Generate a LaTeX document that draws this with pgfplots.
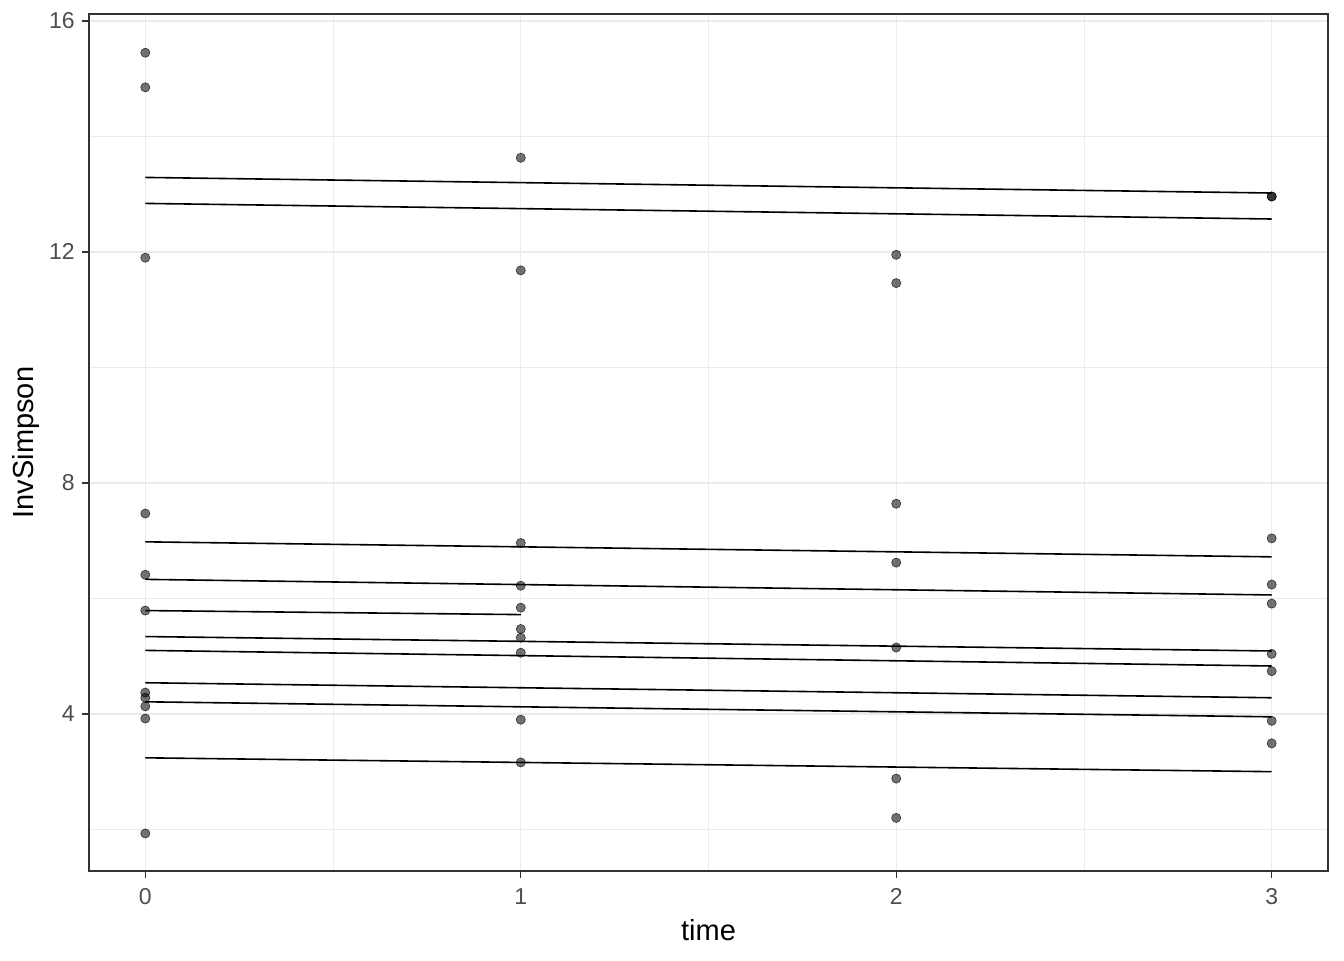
\documentclass[border=0pt]{standalone}
\usepackage{pgfplots}
\pgfplotsset{compat=1.18}
\usepackage{fontspec}
\setmainfont{Liberation Sans}
\definecolor{gridmaj}{HTML}{EBEBEB}
\definecolor{tickcol}{HTML}{4D4D4D}
\definecolor{framecol}{HTML}{333333}
\begin{document}
\begin{tikzpicture}
\path[use as bounding box] (-44.5pt,-44.5pt) rectangle (627.5pt,435.5pt);
\begin{axis}[
  at={(0pt,0pt)}, anchor=south west, scale only axis,
  width=619.5pt, height=428.5pt,
  xmin=-0.15, xmax=3.15, ymin=1.28, ymax=16.12,
  xtick={0,1,2,3}, ytick={4,8,12,16},
  minor xtick={0.5,1.5,2.5}, minor ytick={2,6,10,14},
  grid=both,
  major grid style={gridmaj, line width=0.6pt},
  minor grid style={gridmaj, line width=0.35pt},
  axis line style={framecol, line width=0.6pt},
  every tick/.style={framecol, line width=0.6pt},
  major tick length=3.6pt, minor tick length=0pt,
  tick align=outside, xtick pos=bottom, ytick pos=left,
  ticklabel style={font=\fontsize{11.5}{13}\selectfont, text=tickcol},
  xticklabel style={yshift=-1.6pt},
  /pgf/number format/assume math mode=true,
  xlabel={time}, ylabel={InvSimpson},
  label style={font=\fontsize{14.5}{16}\selectfont, text=black},
  xlabel style={at={(axis description cs:0.5,-0.0688)}, anchor=center},
  ylabel style={at={(axis description cs:-0.0508,0.5)}, anchor=center, rotate=0},
]
\addplot[only marks, mark=*, mark size=2.3pt,
  mark options={fill=black, fill opacity=0.55, draw=black, draw opacity=0.7, line width=0.3pt}]
  table[row sep=\\] {
x y\\
0 15.45\\ 0 14.85\\ 0 11.90\\ 0 7.47\\ 0 6.41\\ 0 5.79\\ 0 4.37\\ 0 4.28\\ 0 4.13\\ 0 3.92\\ 0 1.93\\
1 13.63\\ 1 11.68\\ 1 6.96\\ 1 6.22\\ 1 5.84\\ 1 5.47\\ 1 5.32\\ 1 5.06\\ 1 3.90\\ 1 3.16\\
2 11.95\\ 2 11.46\\ 2 7.64\\ 2 6.62\\ 2 5.15\\ 2 2.88\\ 2 2.20\\
3 12.96\\ 3 12.96\\ 3 7.04\\ 3 6.24\\ 3 5.91\\ 3 5.04\\ 3 4.74\\ 3 3.88\\ 3 3.49\\
};
\addplot[black, line width=0.8pt] coordinates {(0,13.29) (3,13.02)};
\addplot[black, line width=0.8pt] coordinates {(0,12.84) (3,12.57)};
\addplot[black, line width=0.8pt] coordinates {(0,6.98) (3,6.72)};
\addplot[black, line width=0.8pt] coordinates {(0,6.33) (3,6.06)};
\addplot[black, line width=0.8pt] coordinates {(0,5.79) (1,5.72)};
\addplot[black, line width=0.8pt] coordinates {(0,5.34) (3,5.09)};
\addplot[black, line width=0.8pt] coordinates {(0,5.10) (3,4.83)};
\addplot[black, line width=0.8pt] coordinates {(0,4.54) (3,4.28)};
\addplot[black, line width=0.8pt] coordinates {(0,4.21) (3,3.95)};
\addplot[black, line width=0.8pt] coordinates {(0,3.24) (3,3.00)};
\end{axis}
\end{tikzpicture}
\end{document}
